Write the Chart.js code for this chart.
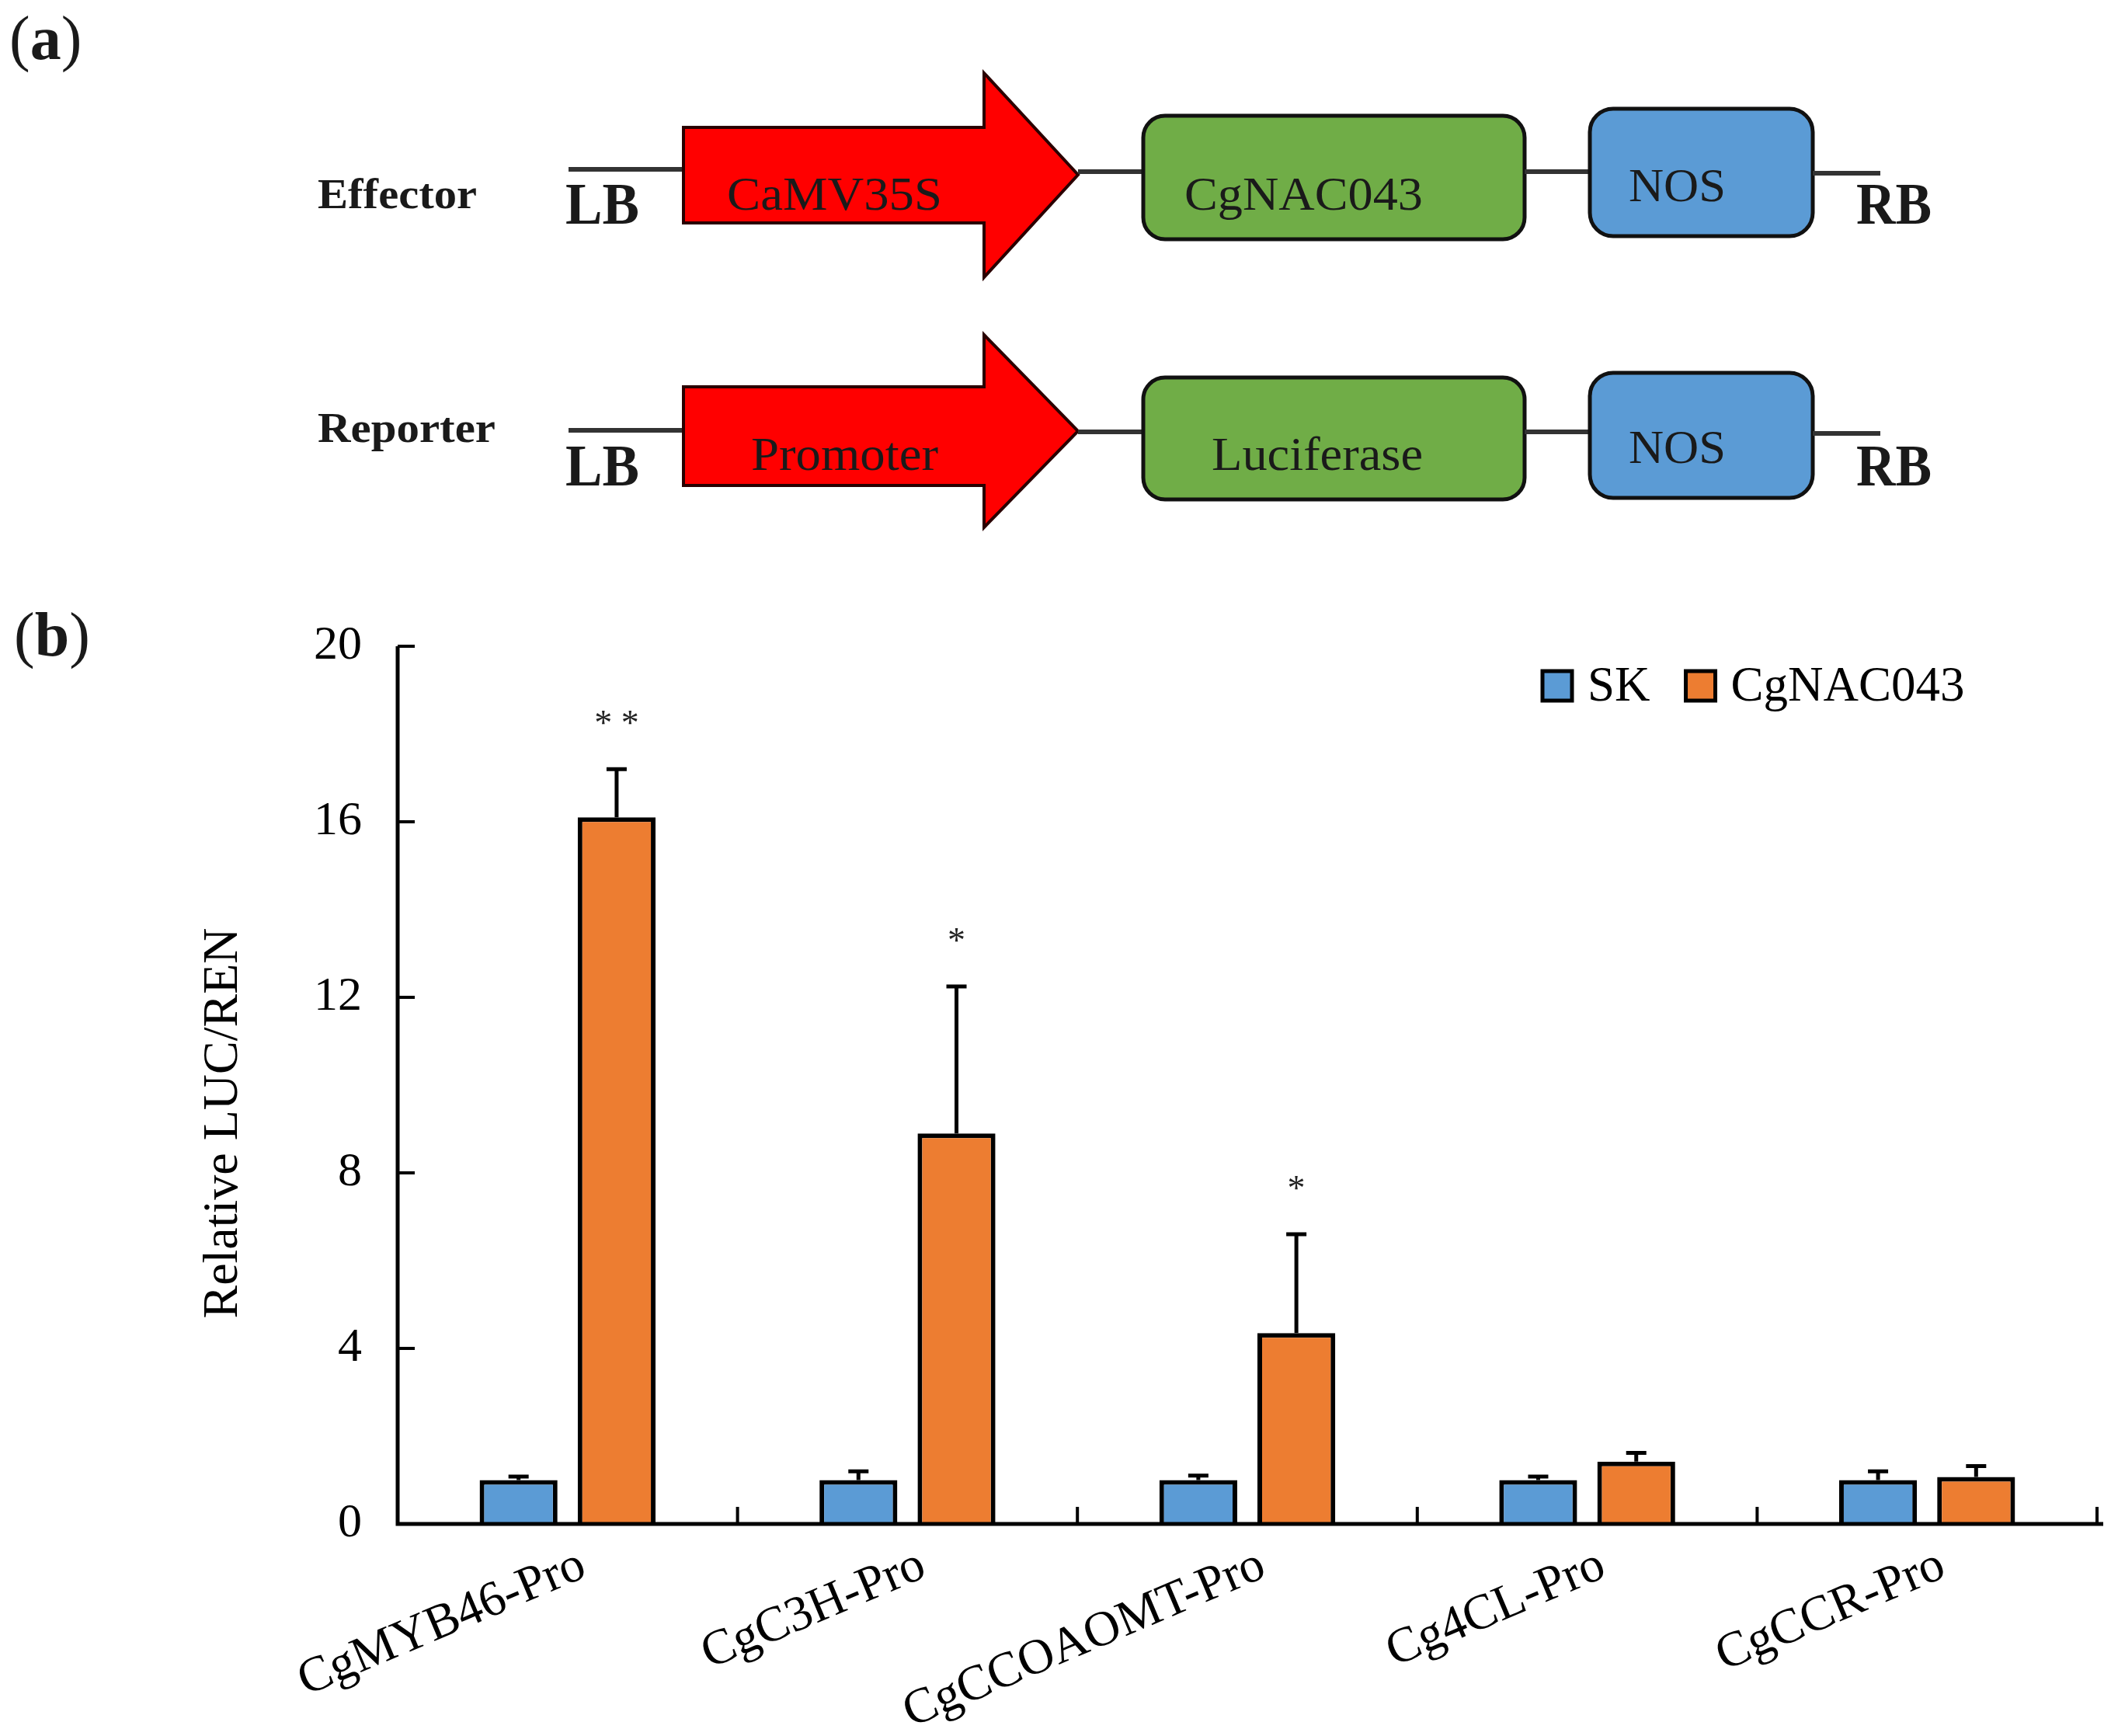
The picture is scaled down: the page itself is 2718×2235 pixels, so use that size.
<!DOCTYPE html>
<html>
<head>
<meta charset="utf-8">
<script src="https://cdn.jsdelivr.net/npm/chart.js@4.4.1/dist/chart.umd.min.js"></script>
<style>
  html, body { margin: 0; padding: 0; background: #fff; }
  #wrap { position: relative; width: 2718px; height: 2235px; }
  #luc { position: absolute; left: 0; top: 0; }
  #scheme { position: absolute; left: 0; top: 0; pointer-events: none; }
  #scheme text { font-family: "Liberation Serif", "Times New Roman", serif; fill: #1a1a1a; }
</style>
</head>
<body>
<div id="wrap">
  <canvas id="luc" width="2718" height="2235"></canvas>

  <!-- panel (a): construct diagram -->
  <svg id="scheme" width="2718" height="2235" xmlns="http://www.w3.org/2000/svg">
    <text x="12" y="76" font-size="80"><tspan>(</tspan><tspan font-weight="bold">a</tspan><tspan>)</tspan></text>

    <!-- Effector row -->
    <text x="409" y="268" font-size="54" font-weight="bold" textLength="205" lengthAdjust="spacingAndGlyphs">Effector</text>
    <line x1="732" y1="218" x2="882" y2="218" stroke="#333" stroke-width="6"/>
    <text x="728" y="288" font-size="76" font-weight="bold" textLength="95" lengthAdjust="spacingAndGlyphs">LB</text>
    <polygon points="880,164 1267,164 1267,94 1388,225 1267,357 1267,287 880,287" fill="#ff0000" stroke="#2a0000" stroke-width="4"/>
    <text x="936" y="270" font-size="62" textLength="277" lengthAdjust="spacingAndGlyphs">CaMV35S</text>
    <line x1="1388" y1="221" x2="1472" y2="221" stroke="#333" stroke-width="6"/>
    <rect x="1472" y="149" width="491" height="159" rx="28" fill="#70ad47" stroke="#111" stroke-width="5"/>
    <text x="1525" y="270" font-size="62" textLength="307" lengthAdjust="spacingAndGlyphs">CgNAC043</text>
    <line x1="1963" y1="221" x2="2047" y2="221" stroke="#333" stroke-width="6"/>
    <rect x="2047" y="140" width="287" height="164" rx="30" fill="#5b9bd5" stroke="#111" stroke-width="5"/>
    <text x="2097" y="259" font-size="62" textLength="125" lengthAdjust="spacingAndGlyphs">NOS</text>
    <line x1="2334" y1="223" x2="2421" y2="223" stroke="#333" stroke-width="6"/>
    <text x="2390" y="288" font-size="76" font-weight="bold" textLength="97" lengthAdjust="spacingAndGlyphs">RB</text>

    <!-- Reporter row -->
    <text x="409" y="569" font-size="54" font-weight="bold" textLength="229" lengthAdjust="spacingAndGlyphs">Reporter</text>
    <line x1="732" y1="554" x2="882" y2="554" stroke="#333" stroke-width="6"/>
    <text x="728" y="625" font-size="76" font-weight="bold" textLength="95" lengthAdjust="spacingAndGlyphs">LB</text>
    <polygon points="880,498 1267,498 1267,431 1388,555 1267,679 1267,625 880,625" fill="#ff0000" stroke="#2a0000" stroke-width="4"/>
    <text x="967" y="605" font-size="62" textLength="241" lengthAdjust="spacingAndGlyphs">Promoter</text>
    <line x1="1388" y1="556" x2="1472" y2="556" stroke="#333" stroke-width="6"/>
    <rect x="1472" y="486" width="491" height="157" rx="28" fill="#70ad47" stroke="#111" stroke-width="5"/>
    <text x="1560" y="605" font-size="62" textLength="272" lengthAdjust="spacingAndGlyphs">Luciferase</text>
    <line x1="1963" y1="556" x2="2047" y2="556" stroke="#333" stroke-width="6"/>
    <rect x="2047" y="480" width="287" height="161" rx="30" fill="#5b9bd5" stroke="#111" stroke-width="5"/>
    <text x="2097" y="596" font-size="62" textLength="125" lengthAdjust="spacingAndGlyphs">NOS</text>
    <line x1="2334" y1="558" x2="2421" y2="558" stroke="#333" stroke-width="6"/>
    <text x="2390" y="625" font-size="76" font-weight="bold" textLength="97" lengthAdjust="spacingAndGlyphs">RB</text>

    <text x="18" y="844" font-size="80"><tspan>(</tspan><tspan font-weight="bold">b</tspan><tspan>)</tspan></text>
  </svg>
</div>

<script>
// data
const categories = ["CgMYB46-Pro", "CgC3H-Pro", "CgCCOAOMT-Pro", "Cg4CL-Pro", "CgCCR-Pro"];
const seriesNames = ["SK", "CgNAC043"];
const skValues = [1.0, 1.0, 1.0, 1.0, 1.0];
const skErrors = [0.08, 0.2, 0.1, 0.08, 0.2];
const nacValues = [16.1, 8.9, 4.35, 1.42, 1.07];
const nacErrors = [1.1, 3.35, 2.25, 0.2, 0.25];
const nacSignif = ["**", "*", "*", "", ""];
const yTicks = [0, 4, 8, 12, 16, 20];

const serif = "'Liberation Serif', 'Times New Roman', serif";
const blue = "#5b9bd5";
const orange = "#ed7d31";

// axes with inward ticks, error bars, stars, legend, y title
const decor = {
  id: "decor",
  afterDatasetsDraw(chart) {
    const ctx = chart.ctx;
    const xs = chart.scales.x;
    const ys = chart.scales.y;
    const area = chart.chartArea;
    const vals = [skValues, nacValues];
    const errs = [skErrors, nacErrors];

    ctx.save();
    ctx.strokeStyle = "#000";
    ctx.lineWidth = 5;
    ctx.lineCap = "butt";
    chart.data.datasets.forEach((ds, i) => {
      chart.getDatasetMeta(i).data.forEach((bar, j) => {
        const top = ys.getPixelForValue(vals[i][j] + errs[i][j]);
        ctx.beginPath();
        ctx.moveTo(bar.x, bar.y);
        ctx.lineTo(bar.x, top);
        ctx.moveTo(bar.x - 13, top);
        ctx.lineTo(bar.x + 13, top);
        ctx.stroke();
      });
    });

    // significance marks
    ctx.fillStyle = "#222";
    ctx.font = "46px " + serif;
    ctx.textAlign = "center";
    ctx.textBaseline = "middle";
    chart.getDatasetMeta(1).data.forEach((bar, j) => {
      if (!nacSignif[j]) return;
      const top = ys.getPixelForValue(nacValues[j] + nacErrors[j]);
      ctx.fillText(nacSignif[j].split("").join(" "), bar.x, top - 56);
    });

    // axes
    ctx.lineWidth = 5;
    ctx.beginPath();
    ctx.moveTo(area.left, area.top);
    ctx.lineTo(area.left, area.bottom);
    ctx.lineTo(area.right + 8, area.bottom);
    ctx.stroke();

    ctx.lineWidth = 4;
    ctx.beginPath();
    ys.ticks.forEach(t => {
      const py = ys.getPixelForValue(t.value);
      ctx.moveTo(area.left, py);
      ctx.lineTo(area.left + 22, py);
    });
    const half = (xs.getPixelForValue(1) - xs.getPixelForValue(0)) / 2;
    categories.forEach((c, i) => {
      const px = xs.getPixelForValue(i) + half;
      ctx.moveTo(px, area.bottom);
      ctx.lineTo(px, area.bottom - 22);
    });
    ctx.stroke();

    // y title
    ctx.fillStyle = "#000";
    ctx.font = "64px " + serif;
    ctx.save();
    ctx.translate(288, 1446);
    ctx.rotate(-Math.PI / 2);
    ctx.fillText("Relative LUC/REN", 0, 0);
    ctx.restore();

    // legend, top right inside the plot
    ctx.font = "63px " + serif;
    ctx.textAlign = "left";
    let lx = 1986;
    const ly = 864;
    chart.data.datasets.forEach(ds => {
      ctx.fillStyle = ds.backgroundColor;
      ctx.fillRect(lx, ly, 38, 38);
      ctx.lineWidth = 5;
      ctx.strokeRect(lx, ly, 38, 38);
      ctx.fillStyle = "#000";
      ctx.fillText(ds.label, lx + 58, ly + 21);
      lx += 58 + ctx.measureText(ds.label).width + 46;
    });
    ctx.restore();
  }
};

new Chart(document.getElementById("luc"), {
  type: "bar",
  data: {
    labels: categories,
    datasets: [
      {
        label: seriesNames[0],
        data: skValues,
        backgroundColor: blue,
        borderColor: "#000",
        borderWidth: 6,
        categoryPercentage: 0.577,
        barPercentage: 0.794
      },
      {
        label: seriesNames[1],
        data: nacValues,
        backgroundColor: orange,
        borderColor: "#000",
        borderWidth: 6,
        categoryPercentage: 0.577,
        barPercentage: 0.794
      }
    ]
  },
  options: {
    responsive: false,
    animation: false,
    devicePixelRatio: 1,
    layout: { padding: { top: 832, right: 18, bottom: 0, left: 0 } },
    plugins: {
      legend: { display: false },
      tooltip: { enabled: false }
    },
    scales: {
      x: {
        grid: { display: false, drawTicks: false },
        border: { display: false },
        ticks: {
          color: "#000",
          font: { family: serif, size: 64 },
          minRotation: 23,
          maxRotation: 23,
          autoSkip: false,
          padding: 16,
          labelOffset: 20
        },
        afterFit: s => { s.height = 273; }
      },
      y: {
        min: 0,
        max: 20,
        grid: { display: false, drawTicks: false },
        border: { display: false },
        ticks: {
          color: "#000",
          font: { family: serif, size: 62 },
          padding: 46
        },
        afterBuildTicks: s => { s.ticks = yTicks.map(v => ({ value: v })); },
        afterFit: s => { s.width = 512; }
      }
    }
  },
  plugins: [decor]
});
</script>
</body>
</html>
